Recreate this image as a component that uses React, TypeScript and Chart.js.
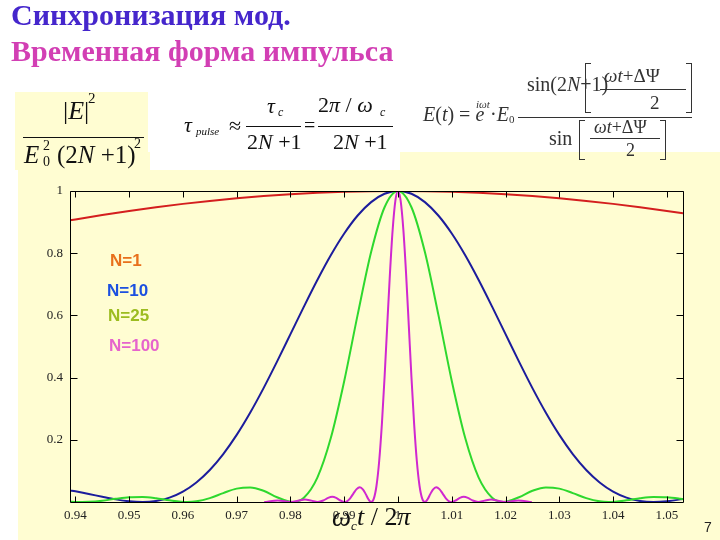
import React, { useEffect, useRef } from 'react';
import { Chart, registerables } from 'chart.js';

Chart.register(...registerables);

// ---------- data ----------
const seriesLabels = ['N=1', 'N=10', 'N=25', 'N=100'];
const lineColors = ['#d41e1e', '#1c1c9c', '#2ed82e', '#d028d0'];
const labelColors = ['#e8701c', '#1c50e0', '#9cbc20', '#e664cc'];

const xTickValues = [0.94, 0.95, 0.96, 0.97, 0.98, 0.99, 1, 1.01, 1.02, 1.03, 1.04, 1.05];
const xTickLabels = ['0.94', '0.95', '0.96', '0.97', '0.98', '0.99', '1', '1.01', '1.02', '1.03', '1.04', '1.05'];
const yTickValues = [0.2, 0.4, 0.6, 0.8, 1];
const yTickLabels = ['0.2', '0.4', '0.6', '0.8', '1'];

const redX = [0.939, 0.94, 0.945, 0.95, 0.955, 0.96, 0.965, 0.97, 0.975, 0.98, 0.985, 0.99, 0.995, 1.0,
  1.005, 1.01, 1.015, 1.02, 1.025, 1.03, 1.035, 1.04, 1.045, 1.05, 1.053];
const redY = [0.9056, 0.9086, 0.9227, 0.9358, 0.9478, 0.9586, 0.9682, 0.9765, 0.9837, 0.9895, 0.9941, 0.9974, 0.9993, 1.0,
  0.9993, 0.9974, 0.9941, 0.9895, 0.9837, 0.9765, 0.9682, 0.9586, 0.9478, 0.9358, 0.9281];

const blueX = [0.939, 0.94, 0.9425, 0.945, 0.9475, 0.95, 0.9525, 0.955, 0.9575, 0.96, 0.9625, 0.965, 0.9675, 0.97,
  0.9725, 0.975, 0.9775, 0.98, 0.9825, 0.985, 0.9875, 0.99, 0.9925, 0.995, 0.9975, 1.0,
  1.0025, 1.005, 1.0075, 1.01, 1.0125, 1.015, 1.0175, 1.02, 1.0225, 1.025, 1.0275, 1.03, 1.0325, 1.035,
  1.0375, 1.04, 1.0425, 1.045, 1.0475, 1.05, 1.0525, 1.053];
const blueY = [0.0373, 0.0343, 0.0259, 0.0168, 0.0084, 0.0023, 0.0, 0.0034, 0.0141, 0.0335, 0.0629, 0.1030, 0.1541, 0.2157,
  0.2869, 0.3661, 0.4512, 0.5396, 0.6282, 0.7138, 0.7933, 0.8633, 0.9212, 0.9643, 0.9910, 1.0,
  0.9910, 0.9643, 0.9212, 0.8633, 0.7933, 0.7138, 0.6282, 0.5396, 0.4512, 0.3661, 0.2869, 0.2157, 0.1541, 0.1030,
  0.0629, 0.0335, 0.0141, 0.0034, 0.0, 0.0023, 0.0084, 0.0100];

const greenX = [0.939, 0.94, 0.9412, 0.9425, 0.945, 0.9475, 0.95, 0.9525, 0.955, 0.9575, 0.9608, 0.9625, 0.965, 0.9675,
  0.97, 0.9725, 0.975, 0.9775, 0.9804, 0.9825, 0.985, 0.9875, 0.99, 0.9925, 0.995, 0.9975, 1.0,
  1.0025, 1.005, 1.0075, 1.01, 1.0125, 1.015, 1.0175, 1.0196, 1.0225, 1.025, 1.0275, 1.03, 1.0325, 1.035,
  1.0375, 1.0392, 1.0425, 1.045, 1.0475, 1.05, 1.0525, 1.053];
const greenY = [0.0012, 0.0004, 0.0, 0.0005, 0.0043, 0.0103, 0.0153, 0.0164, 0.0124, 0.0055, 0.0, 0.0021, 0.0125, 0.0287,
  0.0430, 0.0469, 0.0361, 0.0154, 0.0, 0.0140, 0.0785, 0.2057, 0.3893, 0.6025, 0.8036, 0.9477, 1.0,
  0.9477, 0.8036, 0.6025, 0.3893, 0.2057, 0.0785, 0.0140, 0.0, 0.0154, 0.0361, 0.0469, 0.0430, 0.0287, 0.0125,
  0.0021, 0.0, 0.0055, 0.0124, 0.0164, 0.0153, 0.0103, 0.0090];

const magentaX = [0.975124, 0.97766, 0.9801, 0.9814, 0.9827, 0.9839, 0.985075, 0.9861, 0.987, 0.98777, 0.9885, 0.9892,
  0.99005, 0.9905, 0.9911, 0.9917, 0.9923, 0.9929, 0.9935, 0.994, 0.9945, 0.995025, 0.9955, 0.996, 0.9965, 0.997,
  0.9975, 0.998, 0.9985, 0.999, 0.9995, 1.0, 1.0005, 1.001, 1.0015, 1.002, 1.0025, 1.003, 1.0035, 1.004, 1.0045,
  1.004975, 1.0055, 1.006, 1.0065, 1.0071, 1.0077, 1.0083, 1.0089, 1.0095, 1.00995, 1.0108, 1.0115, 1.01223,
  1.013, 1.0139, 1.014925, 1.0161, 1.0173, 1.0186, 1.0199, 1.02234, 1.024876];
const magentaY = [0.0, 0.0050, 0.0, 0.0039, 0.0083, 0.0044, 0.0, 0.0047, 0.0131, 0.0165, 0.0131, 0.0056,
  0.0, 0.0022, 0.0120, 0.0271, 0.0414, 0.0472, 0.0400, 0.0253, 0.0088, 0.0, 0.0108, 0.0523, 0.1319, 0.2505,
  0.4012, 0.5694, 0.7345, 0.8740, 0.9672, 1.0, 0.9672, 0.8740, 0.7345, 0.5694, 0.4012, 0.2505, 0.1319, 0.0523, 0.0108,
  0.0, 0.0088, 0.0253, 0.0400, 0.0472, 0.0414, 0.0271, 0.0120, 0.0022, 0.0, 0.0056, 0.0131, 0.0165,
  0.0131, 0.0047, 0.0, 0.0044, 0.0083, 0.0039, 0.0, 0.0050, 0.0];

const seriesX = [redX, blueX, greenX, magentaX];
const seriesY = [redY, blueY, greenY, magentaY];

// ---------- layout constants ----------
const SERIF = '"Liberation Serif", "Times New Roman", serif';
const SANS = '"Liberation Sans", Arial, sans-serif';
const legendPos = [[110, 261], [107, 291], [108, 316], [109, 346]];

const framePlugin = {
  id: 'frame',
  afterDatasetsDraw(chart: any) {
    const { ctx, chartArea: a, scales } = chart;
    const xs = scales.x;
    const ys = scales.y;
    ctx.save();
    ctx.strokeStyle = '#000';
    ctx.lineWidth = 1;
    ctx.beginPath();
    const L = Math.round(a.left) + 0.5, R = Math.round(a.right) + 0.5;
    const T = Math.round(a.top) + 0.5, B = Math.round(a.bottom) + 0.5;
    ctx.rect(L, T, R - L, B - T);
    xTickValues.forEach((v) => {
      const p = Math.round(xs.getPixelForValue(v)) + 0.5;
      ctx.moveTo(p, B); ctx.lineTo(p, B - 6);
      ctx.moveTo(p, T); ctx.lineTo(p, T + 6);
    });
    yTickValues.forEach((v) => {
      const p = Math.round(ys.getPixelForValue(v)) + 0.5;
      ctx.moveTo(L, p); ctx.lineTo(L + 7, p);
      ctx.moveTo(R, p); ctx.lineTo(R - 7, p);
    });
    ctx.stroke();
    ctx.font = 'bold 17px ' + SANS;
    ctx.textBaseline = 'middle';
    ctx.textAlign = 'left';
    seriesLabels.forEach((t, i) => {
      ctx.fillStyle = labelColors[i];
      ctx.fillText(t, legendPos[i][0], legendPos[i][1]);
    });
    ctx.restore();
  },
};

function T(props: { x: number; y: number; size: number; children: any; style?: any }) {
  return (
    <div
      style={{
        position: 'absolute', left: props.x, top: props.y, fontSize: props.size, lineHeight: 1,
        whiteSpace: 'nowrap', fontFamily: SERIF, color: '#111', ...(props.style || {}),
      }}
    >
      {props.children}
    </div>
  );
}

function Bar(props: { x: number; y: number; w: number; h?: number; color?: string }) {
  return (
    <div style={{ position: 'absolute', left: props.x, top: props.y, width: props.w, height: props.h || 1.2, background: props.color || '#111' }} />
  );
}

function Bracket(props: { x: number; y: number; h: number; right?: boolean }) {
  const s: any = { position: 'absolute', left: props.x, top: props.y, width: 5, height: props.h, borderTop: '1px solid #333', borderBottom: '1px solid #333' };
  if (props.right) s.borderRight = '1px solid #333'; else s.borderLeft = '1px solid #333';
  return <div style={s} />;
}

export default function App() {
  const ref = useRef<HTMLCanvasElement>(null);

  useEffect(() => {
    if (!ref.current) return;
    const datasets = seriesLabels.map((label, i) => ({
      label,
      data: seriesX[i].map((x, j) => ({ x, y: seriesY[i][j] })),
      borderColor: lineColors[i],
      backgroundColor: lineColors[i],
      borderWidth: 2,
      pointRadius: 0,
      fill: false,
      cubicInterpolationMode: 'monotone' as const,
      order: 4 - i,
    }));
    const chart = new Chart(ref.current, {
      type: 'line',
      data: { datasets },
      options: {
        animation: false,
        responsive: false,
        devicePixelRatio: 1,
        layout: { padding: { top: 191, right: 37, left: 0, bottom: 0 } },
        plugins: { legend: { display: false }, tooltip: { enabled: false } },
        scales: {
          x: {
            type: 'linear',
            min: 0.939,
            max: 1.053,
            grid: { display: false, drawTicks: false },
            border: { display: false },
            afterBuildTicks: (s: any) => { s.ticks = xTickValues.map((v) => ({ value: v })); },
            afterFit: (s: any) => { s.height = 38; },
            ticks: {
              autoSkip: false,
              maxRotation: 0,
              padding: 6,
              color: '#222',
              font: { family: SERIF, size: 13 },
              callback: (v: any) => xTickLabels[xTickValues.indexOf(v)] ?? '',
            },
          },
          y: {
            type: 'linear',
            min: 0,
            max: 1,
            grid: { display: false, drawTicks: false },
            border: { display: false },
            afterBuildTicks: (s: any) => { s.ticks = yTickValues.map((v) => ({ value: v })); },
            afterFit: (s: any) => { s.width = 70; },
            ticks: {
              autoSkip: false,
              padding: 7,
              color: '#222',
              font: { family: SERIF, size: 13 },
              callback: (v: any) => yTickLabels[yTickValues.indexOf(v)] ?? '',
            },
          },
        },
      },
      plugins: [framePlugin],
    });
    return () => chart.destroy();
  }, []);

  const yellow = '#fffdd2';
  return (
    <div style={{ position: 'absolute', left: 0, top: 0, width: 720, height: 540, overflow: 'hidden', background: '#fff' }}>
      {/* backgrounds */}
      <div style={{ position: 'absolute', left: 18, top: 152, width: 702, height: 388, background: yellow }} />
      <div style={{ position: 'absolute', left: 150, top: 88, width: 250, height: 82, background: '#fff' }} />
      <div style={{ position: 'absolute', left: 15, top: 92, width: 133, height: 78, background: yellow }} />

      <canvas ref={ref} width={720} height={540} style={{ position: 'absolute', left: 0, top: 0, width: 720, height: 540 }} />

      {/* titles */}
      <T x={11} y={0} size={30} style={{ fontWeight: 'bold', color: '#4526cc' }}>Синхронизация мод.</T>
      <T x={11} y={36} size={30} style={{ fontWeight: 'bold', color: '#d23fb4' }}>Временная форма импульса</T>

      {/* formula 1 */}
      <T x={63} y={98} size={26}>|<i>E</i>|</T>
      <T x={88} y={91} size={15}>2</T>
      <Bar x={23} y={137} w={121} />
      <T x={24} y={142} size={25}><i>E</i></T>
      <T x={43} y={139} size={14}>2</T>
      <T x={43} y={155} size={14}>0</T>
      <T x={57} y={142} size={25}>(2<i>N</i> +1)</T>
      <T x={134} y={137} size={14}>2</T>

      {/* formula 2 */}
      <T x={184} y={114} size={22}><i>τ</i></T>
      <T x={196} y={126} size={11}><i>pulse</i></T>
      <T x={229} y={115} size={22}>≈</T>
      <T x={267} y={95} size={22}><i>τ</i></T>
      <T x={278} y={106} size={12}><i>c</i></T>
      <Bar x={246} y={126} w={55} />
      <T x={247} y={131} size={22}>2<i>N</i> +1</T>
      <T x={304} y={115} size={20}>=</T>
      <T x={318} y={94} size={22}>2<i>π</i> / <i>ω</i></T>
      <T x={380} y={106} size={12}><i>c</i></T>
      <Bar x={318} y={126} w={75} />
      <T x={333} y={131} size={22}>2<i>N</i> +1</T>

      {/* formula 3 */}
      <T x={423} y={104} size={20} style={{ color: '#333' }}><i>E</i>(<i>t</i>) = <i>e</i></T>
      <T x={476} y={99} size={11} style={{ color: '#333' }}><i>iωt</i></T>
      <T x={490} y={104} size={20} style={{ color: '#333' }}>·<i>E</i></T>
      <T x={509} y={114} size={11} style={{ color: '#333' }}>0</T>
      <Bar x={518} y={117} w={174} color="#333" />
      <T x={527} y={74} size={20} style={{ color: '#333' }}>sin(2<i>N</i>+1)</T>
      <Bracket x={585} y={63} h={48} />
      <T x={604} y={66} size={19} style={{ color: '#333' }}><i>ωt</i>+ΔΨ</T>
      <Bar x={600} y={89} w={86} color="#333" />
      <T x={650} y={93} size={19} style={{ color: '#333' }}>2</T>
      <Bracket x={686} y={63} h={48} right />
      <T x={549} y={128} size={20} style={{ color: '#333' }}>sin</T>
      <Bracket x={579} y={120} h={38} />
      <T x={594} y={118} size={18} style={{ color: '#333' }}><i>ωt</i>+ΔΨ</T>
      <Bar x={590} y={138} w={70} color="#333" />
      <T x={626} y={141} size={18} style={{ color: '#333' }}>2</T>
      <Bracket x={660} y={120} h={38} right />

      {/* x-axis title */}
      <T x={332} y={504} size={27}><i>ω</i></T>
      <T x={351} y={519} size={13}><i>c</i></T>
      <T x={357} y={504} size={26}><i>t</i> / 2<i>π</i></T>

      {/* page number */}
      <T x={704} y={520} size={14} style={{ fontFamily: SANS, color: '#222' }}>7</T>
    </div>
  );
}
